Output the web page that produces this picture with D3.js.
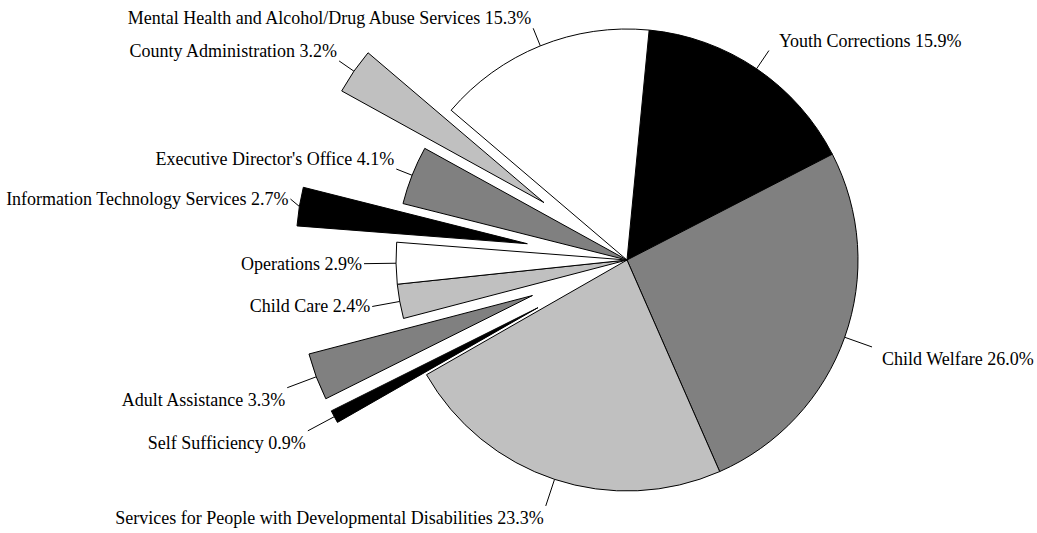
<!DOCTYPE html>
<html>
<head>
<meta charset="utf-8">
<script src="https://cdn.jsdelivr.net/npm/d3@7"></script>
<style>
  html, body { margin: 0; padding: 0; background: #fff; }
  svg { display: block; }
  text { font-family: "Liberation Serif", "Times New Roman", serif; font-size: 18px; fill: #000; }
</style>
</head>
<body>
<svg id="chart" width="1037" height="533"></svg>
<script>
// Budget shares by program area, listed clockwise from the top of the pie
const categories = [
  "Youth Corrections",
  "Child Welfare",
  "Services for People with Developmental Disabilities",
  "Self Sufficiency",
  "Adult Assistance",
  "Child Care",
  "Operations",
  "Information Technology Services",
  "Executive Director's Office",
  "County Administration",
  "Mental Health and Alcohol/Drug Abuse Services"
];
const shares = [15.9, 26.0, 23.3, 0.9, 3.3, 2.4, 2.9, 2.7, 4.1, 3.2, 15.3];

// Slices pulled out from the centre
const exploded = [
  "Self Sufficiency",
  "Adult Assistance",
  "Information Technology Services",
  "County Administration"
];

// Fill for each slice, in the same order as categories
const fills = ["#000000", "#808080", "#c0c0c0", "#000000", "#808080", "#c0c0c0",
               "#ffffff", "#000000", "#808080", "#c0c0c0", "#ffffff"];

// Leader line length and a small vertical label nudge, in the same order
const leaderLengths = [22, 29, 28, 30, 31, 28, 32, 9, 17, 18, 19];
const labelNudge    = [0, 0, 0, 0, 0, 0, 0, -6, 0, 0, 0];

const cx = 627, cy = 260, radius = 231, explodeBy = 101;
const startDeg = 5.5;

const svg = d3.select("#chart");
const g = svg.append("g").attr("transform", `translate(${cx},${cy})`);

const rows = categories.map((name, i) => ({
  name, value: shares[i], fill: fills[i], lead: leaderLengths[i], nudge: labelNudge[i]
}));

const pie = d3.pie()
  .sort(null)
  .value(d => d.value)
  .startAngle(startDeg * Math.PI / 180)
  .endAngle(startDeg * Math.PI / 180 + 2 * Math.PI);

const arc = d3.arc().innerRadius(0).outerRadius(radius);
const arcs = pie(rows);

const offsetOf = d => exploded.includes(d.data.name) ? explodeBy : 0;
const mid = d => (d.startAngle + d.endAngle) / 2;

g.selectAll("path.slice")
  .data(arcs)
  .join("path")
  .attr("class", "slice")
  .attr("d", arc)
  .attr("transform", d => {
    const a = mid(d), o = offsetOf(d);
    return `translate(${Math.sin(a) * o},${-Math.cos(a) * o})`;
  })
  .attr("fill", d => d.data.fill)
  .attr("stroke", "#000")
  .attr("stroke-width", 1)
  .attr("stroke-linejoin", "miter");

// Leader lines and labels
const labels = g.selectAll("g.label")
  .data(arcs)
  .join("g")
  .attr("class", "label");

labels.each(function (d) {
  const a = mid(d);
  const sx = Math.sin(a), sy = -Math.cos(a);
  const r0 = radius + offsetOf(d);
  const r1 = r0 + d.data.lead;
  const x0 = sx * r0, y0 = sy * r0;
  const x1 = sx * r1, y1 = sy * r1 + d.data.nudge;
  const sel = d3.select(this);
  sel.append("line")
    .attr("x1", x0).attr("y1", y0)
    .attr("x2", x1).attr("y2", y1)
    .attr("stroke", "#000")
    .attr("stroke-width", 1);

  const rightSide = sx > 0;
  const c = Math.cos(a);
  let ty;
  if (c > 0.3) ty = y1 - 4;        // label sits above the line end
  else if (c < -0.3) ty = y1 + 18; // label hangs below the line end
  else ty = y1 + 6;                // label centred on the line end

  sel.append("text")
    .attr("x", rightSide ? x1 + 10 : x1 - 2)
    .attr("y", ty)
    .attr("text-anchor", rightSide ? "start" : "end")
    .text(`${d.data.name} ${d.data.value.toFixed(1)}%`);
});
</script>
</body>
</html>
